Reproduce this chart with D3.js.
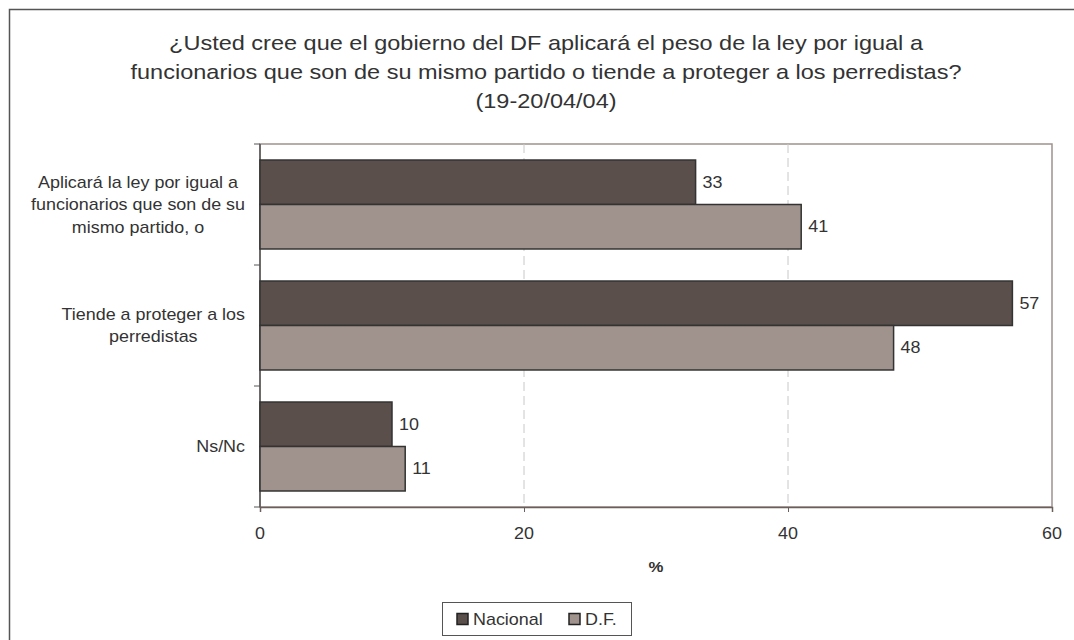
<!DOCTYPE html>
<html>
<head>
<meta charset="utf-8">
<script src="https://cdn.jsdelivr.net/npm/d3@7"></script>
<style>
  body { margin: 0; background: #fff; }
  svg text { font-family: "Liberation Sans", Arial, sans-serif; fill: #333; }
</style>
</head>
<body>
<div id="chart"></div>
<script>
// Chart values
const categories = [
  ["Aplicará la ley por igual a", "funcionarios que son de su", "mismo partido, o"],
  ["Tiende a proteger a los", "perredistas"],
  ["Ns/Nc"]
]
const seriesNames = ["Nacional", "D.F."]
const nacional = [33, 57, 10]
const df = [41, 48, 11]
const xTicks = [0, 20, 40, 60]
const titleLines = [
  "¿Usted cree que el gobierno del DF aplicará el peso de la ley por igual a",
  "funcionarios que son de su mismo partido o tiende a proteger a los perredistas?",
  "(19-20/04/04)"
]
const colors = ["#5a4f4b", "#a0928d"]

const width = 1074
const height = 640
const margin = {left: 260, right: 22, top: 144, bottom: 133}
// the source picture is a bit wider than tall, so text gets stretched
const SX = 1.12

var svg = d3.select("#chart")
              .append("svg")
                .attr("width", width)
                .attr("height", height)

// text helper, scaled horizontally around its anchor
function label(parent, x, y, txt, size, anchor) {
  return parent.append("text")
      .attr("transform", "translate(" + x + "," + y + ") scale(" + SX + ",1)")
      .attr("text-anchor", anchor || "start")
      .style("font-size", size + "px")
      .text(txt)
}

// Outer frame (only top and left visible)
svg.append("rect")
    .attr("x", 9.5).attr("y", 9.5)
    .attr("width", width + 20).attr("height", height + 20)
    .attr("fill", "none")
    .attr("stroke", "#555")
    .attr("stroke-width", 1.5)

// Title
titleLines.forEach((t, i) => label(svg, 546, 50 + i * 29, t, 21, "middle"))

var x = d3.scaleLinear()
            .domain([0, 60])
            .range([margin.left, width - margin.right])

var y = d3.scaleBand()
            .domain(d3.range(categories.length))
            .range([margin.top, height - margin.bottom])

var inner = d3.scaleBand()
            .domain([0, 1])
            .range([0, y.bandwidth()])
            .paddingOuter(0.36)
            .paddingInner(0)

// Plot border (top/right)
svg.append("rect")
    .attr("x", x(0)).attr("y", margin.top)
    .attr("width", x(60) - x(0)).attr("height", height - margin.bottom - margin.top)
    .attr("fill", "none")
    .attr("stroke", "#9e918d")
    .attr("stroke-width", 1.5)

// Dashed gridlines
svg.append("g").selectAll("line")
    .data(xTicks.slice(1, -1)).enter()
    .append("line")
      .attr("x1", d => x(d)).attr("x2", d => x(d))
      .attr("y1", margin.top).attr("y2", height - margin.bottom)
      .attr("stroke", "#c8c8c8")
      .attr("stroke-dasharray", "9,5")

// X axis
var xAxis = svg.append("g")
    .attr("transform", "translate(0," + (height - margin.bottom) + ")")
    .call(d3.axisBottom(x).tickValues(xTicks).tickSize(5).tickFormat(""))
xAxis.select(".domain").attr("stroke", "#6b5f5c").attr("stroke-width", 1.5)
xAxis.selectAll(".tick line").attr("stroke", "#6b5f5c")
xTicks.forEach(t => label(svg, x(t), 539, t, 16, "middle"))

label(svg, (x(0) + x(60)) / 2, 572, "%", 15, "middle")
    .style("font-weight", "bold")

// Y axis (ticks at band boundaries)
var yBounds = d3.range(categories.length + 1).map(i => margin.top + i * y.step())
svg.append("line")
    .attr("x1", x(0)).attr("x2", x(0))
    .attr("y1", margin.top).attr("y2", height - margin.bottom)
    .attr("stroke", "#555")
    .attr("stroke-width", 1.5)
svg.append("g").selectAll("line")
    .data(yBounds).enter()
    .append("line")
      .attr("x1", x(0) - 6).attr("x2", x(0))
      .attr("y1", d => d).attr("y2", d => d)
      .attr("stroke", "#555")

// Category labels: block right-aligned, lines centered
var labelRight = 245
categories.forEach((lines, i) => {
  var g = svg.append("g")
  var cy = y(i) + y.bandwidth() / 2
  var lh = 22.5
  var ly = j => cy + (j - (lines.length - 1) / 2) * lh + 5.5
  var texts = lines.map((t, j) => label(g, 0, ly(j), t, 16, "middle"))
  var maxW = d3.max(texts, n => n.node().getComputedTextLength()) * SX
  texts.forEach((n, j) => n.attr("transform",
      "translate(" + (labelRight - maxW / 2) + "," + ly(j) + ") scale(" + SX + ",1)"))
})

// Bars
var series = [nacional, df]
series.forEach((vals, s) => {
  var g = svg.append("g")
  g.selectAll("rect")
      .data(vals).enter()
      .append("rect")
        .attr("x", x(0))
        .attr("y", (d, i) => y(i) + inner(s))
        .attr("width", d => x(d) - x(0))
        .attr("height", inner.bandwidth())
        .attr("fill", colors[s])
        .attr("stroke", "#333")
        .attr("stroke-width", 1.5)
  vals.forEach((d, i) =>
      label(g, x(d) + 7, y(i) + inner(s) + inner.bandwidth() / 2 + 5.5, d, 16))
})

// Legend
var legend = svg.append("g")
legend.append("rect")
    .attr("x", 442.5).attr("y", 602.5)
    .attr("width", 189).attr("height", 33)
    .attr("fill", "#fff")
    .attr("stroke", "#555")
var legendX = [457, 569]
seriesNames.forEach((name, s) => {
  legend.append("rect")
      .attr("x", legendX[s]).attr("y", 613.5)
      .attr("width", 11).attr("height", 11)
      .attr("fill", colors[s])
      .attr("stroke", "#222")
      .attr("stroke-width", 1.5)
  label(legend, legendX[s] + 16, 625, name, 16)
})
</script>
</body>
</html>
